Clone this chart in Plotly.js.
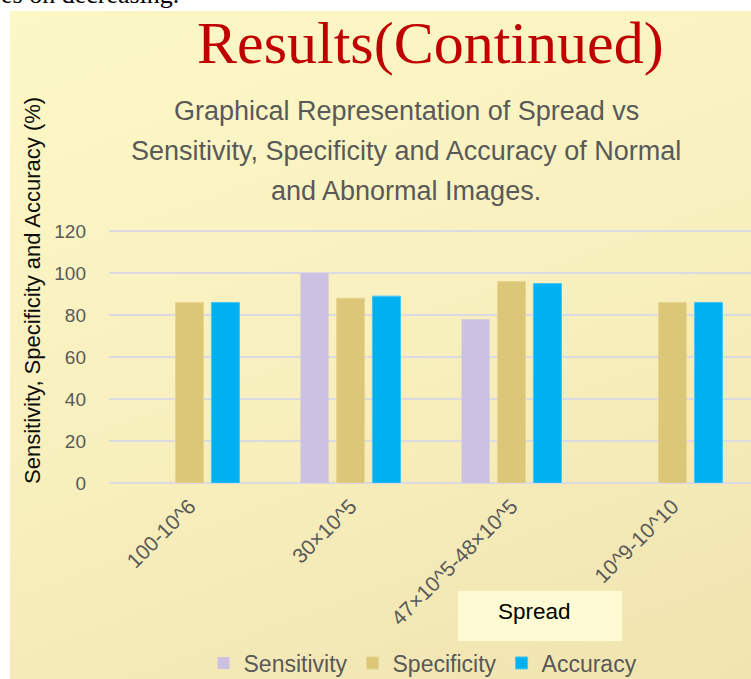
<!DOCTYPE html>
<html>
<head>
<meta charset="utf-8">
<script src="https://cdn.plot.ly/plotly-3.0.1.min.js"></script>
<style>
  html, body { margin:0; padding:0; background:#ffffff; overflow:hidden; width:751px; height:679px; }
  #bg { position:absolute; left:10px; top:11px; width:741px; height:668px;
        background: linear-gradient(160deg, #fcf8c6 0%, #f9f2c0 40%, #f4eab7 75%, #f0e4b0 100%); }
  #chart { position:absolute; left:0; top:0; width:753px; height:679px; }
</style>
</head>
<body>
<div id="bg"></div>
<div id="chart"></div>
<script>
const categories = ["100-10^6", "30×10^5", "47×10^5-48×10^5", "10^9-10^10"];
const sensitivity = [0, 100, 78, 0];
const specificity = [86, 88, 96, 86];
const accuracy = [86, 89, 95, 86];
const yTicks = [0, 20, 40, 60, 80, 100, 120];
const subtitleLines = [
  "Graphical Representation of Spread vs",
  "Sensitivity, Specificity and Accuracy of Normal",
  "and Abnormal Images."
];

const SANS = '"Liberation Sans", Arial, sans-serif';
const SERIF = '"Liberation Serif", "Times New Roman", serif';

// plot area in pixels: x 109..753, y 230..483
const L = 109, W = 644, T = 230, H = 253;
const px = x => (x - L) / W;
const py = y => (T + H - y) / H;

const traces = [
  { type:'bar', name:'Sensitivity', x:categories, y:sensitivity,
    marker:{ color:'#ccc1e3', line:{ width:0 } } },
  { type:'bar', name:'Specificity', x:categories, y:specificity,
    marker:{ color:'#dcc678', line:{ color:'#e6d692', width:1 } } },
  { type:'bar', name:'Accuracy', x:categories, y:accuracy,
    marker:{ color:'#00b0f0', line:{ color:'#45c6f4', width:1 } } }
];

const subAnn = subtitleLines.map((t, i) => ({
  text:t, xref:'paper', yref:'paper', x:px(406), y:py(110.5 + 40 * i),
  xanchor:'center', yanchor:'middle', showarrow:false,
  font:{ family:SANS, size:27, color:'#595959' }
}));

const layout = {
  width:753, height:679,
  margin:{ l:L, r:0, t:T, b:679 - T - H, pad:0, autoexpand:false },
  paper_bgcolor:'rgba(0,0,0,0)', plot_bgcolor:'rgba(0,0,0,0)',
  barmode:'group', bargap:0.33, bargroupgap:0.22,
  showlegend:true,
  legend:{ orientation:'h', x:px(423), xanchor:'center', y:py(663), yanchor:'middle',
           font:{ family:SANS, size:23, color:'#595959' }, bgcolor:'rgba(0,0,0,0)',
           itemwidth:30, tracegroupgap:0 },
  xaxis:{ type:'category', tickangle:-45, showgrid:false, showline:false, zeroline:false,
          ticks:'', ticklabelstandoff:6,
          tickfont:{ family:SANS, size:21, color:'#595959' } },
  yaxis:{ range:[0,120.5], tickvals:yTicks, showgrid:true, gridcolor:'#dbd9e3', gridwidth:1.5,
          zeroline:true, zerolinecolor:'#dbd9e3', zerolinewidth:1.5, showline:false, ticks:'',
          ticklabelstandoff:22,
          tickfont:{ family:SANS, size:19, color:'#595959' } },
  shapes:[
    { type:'rect', xref:'paper', yref:'paper', x0:px(458), x1:px(622), y0:py(641), y1:py(591),
      fillcolor:'#fdfbd3', line:{ width:0 }, layer:'below' }
  ],
  annotations:[
    { text:'es on decreasing.', xref:'paper', yref:'paper', x:px(-1), y:py(-6), xanchor:'left', yanchor:'middle',
      showarrow:false, font:{ family:SERIF, size:26, color:'#000000' } },
    { text:'Results(Continued)', xref:'paper', yref:'paper', x:px(430), y:py(42.5), xanchor:'center', yanchor:'middle',
      showarrow:false, font:{ family:SERIF, size:60, color:'#c00000' } },
    ...subAnn,
    { text:'Sensitivity, Specificity and Accuracy (%)', xref:'paper', yref:'paper', x:px(32), y:py(291),
      xanchor:'center', yanchor:'middle', textangle:-90, showarrow:false,
      font:{ family:SANS, size:22, color:'#0d0d0d' } },
    { text:'Spread', xref:'paper', yref:'paper', x:px(534), y:py(611), xanchor:'center', yanchor:'middle',
      showarrow:false, font:{ family:SANS, size:22.5, color:'#000000' } }
  ]
};

Plotly.newPlot('chart', traces, layout, { staticPlot:true, displayModeBar:false });
</script>
</body>
</html>
